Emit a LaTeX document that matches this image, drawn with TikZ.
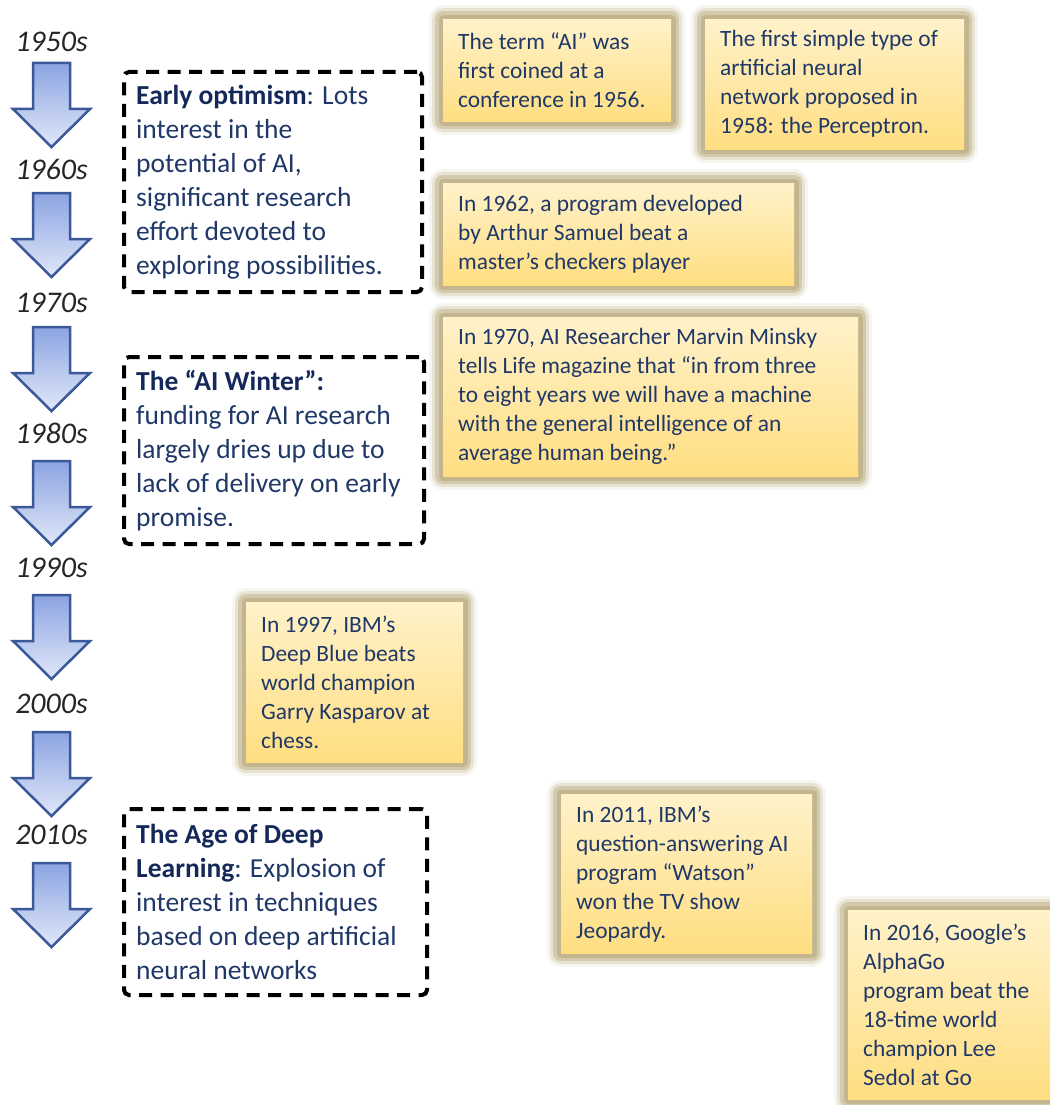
\documentclass[tikz,border=0pt]{standalone}
\usepackage{fontspec}
\setmainfont{Carlito}
\usetikzlibrary{positioning}

\definecolor{noteText}{RGB}{31,56,104}
\definecolor{headText}{RGB}{20,40,90}
\definecolor{glowTan}{RGB}{186,172,126}
\definecolor{noteTop}{RGB}{255,252,238}
\definecolor{noteMid}{RGB}{255,221,125}
\definecolor{noteBot}{RGB}{255,234,168}
\definecolor{arrowTop}{RGB}{140,164,226}
\definecolor{arrowBot}{RGB}{224,231,248}
\definecolor{arrowLine}{RGB}{59,89,152}

\pgfdeclareverticalshading{notefill}{100bp}{color(0bp)=(noteBot); color(22bp)=(noteMid); color(100bp)=(noteTop)}

\tikzset{
  note/.style={shade, shading=notefill, inner sep=0pt, anchor=north west,
    preaction={draw=glowTan, line width=28pt, opacity=.12, line join=round},
    preaction={draw=glowTan, line width=22pt, opacity=.25, line join=round},
    preaction={draw=glowTan, line width=16pt, opacity=.45, line join=round},
    preaction={draw=glowTan, line width=9pt, opacity=.65, line join=round}},
  notetext/.style={text=noteText, align=left, inner sep=0pt,
    font=\fontsize{23.4}{29}\selectfont},
  era/.style={draw=black, line width=4pt, dash pattern=on 13pt off 8.5pt, rounded corners=5pt,
    inner sep=0pt, anchor=north west},
  eratext/.style={text=noteText, align=left, inner sep=0pt,
    font=\fontsize{27.5}{34}\selectfont},
  decade/.style={font=\fontsize{30}{34}\selectfont\itshape, text=black!85},
  arrowshape/.style={draw=arrowLine, line width=2.5pt, top color=arrowTop, bottom color=arrowBot}
}

\begin{document}
\begin{tikzpicture}[x=1pt,y=-1pt]
  \newcommand{\decadeArrow}[1]{
    \draw[arrowshape] (33,#1) -- (70,#1) -- (70,#1+46) -- (90,#1+46)
      -- (51.5,#1+84) -- (13,#1+46) -- (33,#1+46) -- cycle;
  }
  \newcommand{\hd}[1]{\textbf{\color{headText}#1}}
  \useasboundingbox (0,0) rectangle (1049,1105);

  % timeline
  \foreach \dec/\ly/\ay in {1950s/42/63, 1960s/169/193, 1970s/303/327, 1980s/433/461,
                            1990s/568/595, 2000s/704/732, 2010s/835/863}{
    \node[decade] (d\dec) at (51.5,\ly) {\dec};
    \decadeArrow{\ay}
  }

  % eras
  \node[era, minimum width=298pt, minimum height=220pt] (optimism) at (122,70) {};
  \node[eratext, right=14pt of optimism.west] (optimismtxt)
    {\hd{Early optimism}: Lots\\ interest in the\\ potential of AI,\\ significant research\\
     effort devoted to\\ exploring possibilities.};
  \node[era, minimum width=300pt, minimum height=187pt] (winter) at (122,355) {};
  \node[eratext, right=14pt of winter.west] (wintertxt)
    {\hd{The “AI Winter”:}\\ funding for AI research\\ largely dries up due to\\ lack of delivery on early\\ promise.};
  \node[era, minimum width=303pt, minimum height=186pt] (deep) at (122,807) {};
  \node[eratext, right=14pt of deep.west] (deeptxt)
    {\hd{The Age of Deep}\\ \hd{Learning}: Explosion of\\ interest in techniques\\ based on deep artificial\\ neural networks};

  % events
  \node[note, minimum width=228pt, minimum height=102pt] (n1956) at (443,19) {};
  \node[notetext, right=15pt of n1956.west] (t1956)
    {The term “AI” was\\ first coined at a\\ conference in 1956.};
  \node[note, minimum width=259pt, minimum height=130pt] (n1958) at (705,19) {};
  \node[notetext, right=15pt of n1958.west] (t1958)
    {The first simple type of\\ artificial neural\\ network proposed in\\ 1958: the Perceptron.};
  \node[note, minimum width=351pt, minimum height=102pt] (n1962) at (443,183) {};
  \node[notetext, right=15pt of n1962.west] (t1962)
    {In 1962, a program developed\\ by Arthur Samuel beat a\\ master’s checkers player};
  \node[note, minimum width=415pt, minimum height=159pt] (n1970) at (443,317) {};
  \node[notetext, right=15pt of n1970.west] (t1970)
    {In 1970, AI Researcher Marvin Minsky\\ tells Life magazine that “in from three\\
     to eight years we will have a machine\\ with the general intelligence of an\\ average human being.”};
  \node[note, minimum width=217pt, minimum height=160pt] (n1997) at (246,602) {};
  \node[notetext, right=15pt of n1997.west] (t1997)
    {In 1997, IBM’s\\ Deep Blue beats\\ world champion\\ Garry Kasparov at\\ chess.};
  \node[note, minimum width=251pt, minimum height=159pt] (n2011) at (561,794) {};
  \node[notetext, right=15pt of n2011.west] (t2011)
    {In 2011, IBM's\\ question-answering AI\\ program “Watson”\\ won the TV show\\ Jeopardy.};
  \node[note, minimum width=215pt, minimum height=189pt] (n2016) at (848,910) {};
  \node[notetext, right=15pt of n2016.west] (t2016)
    {In 2016, Google’s\\ AlphaGo\\ program beat the\\ 18-time world\\ champion Lee\\ Sedol at Go};
\end{tikzpicture}
\end{document}
